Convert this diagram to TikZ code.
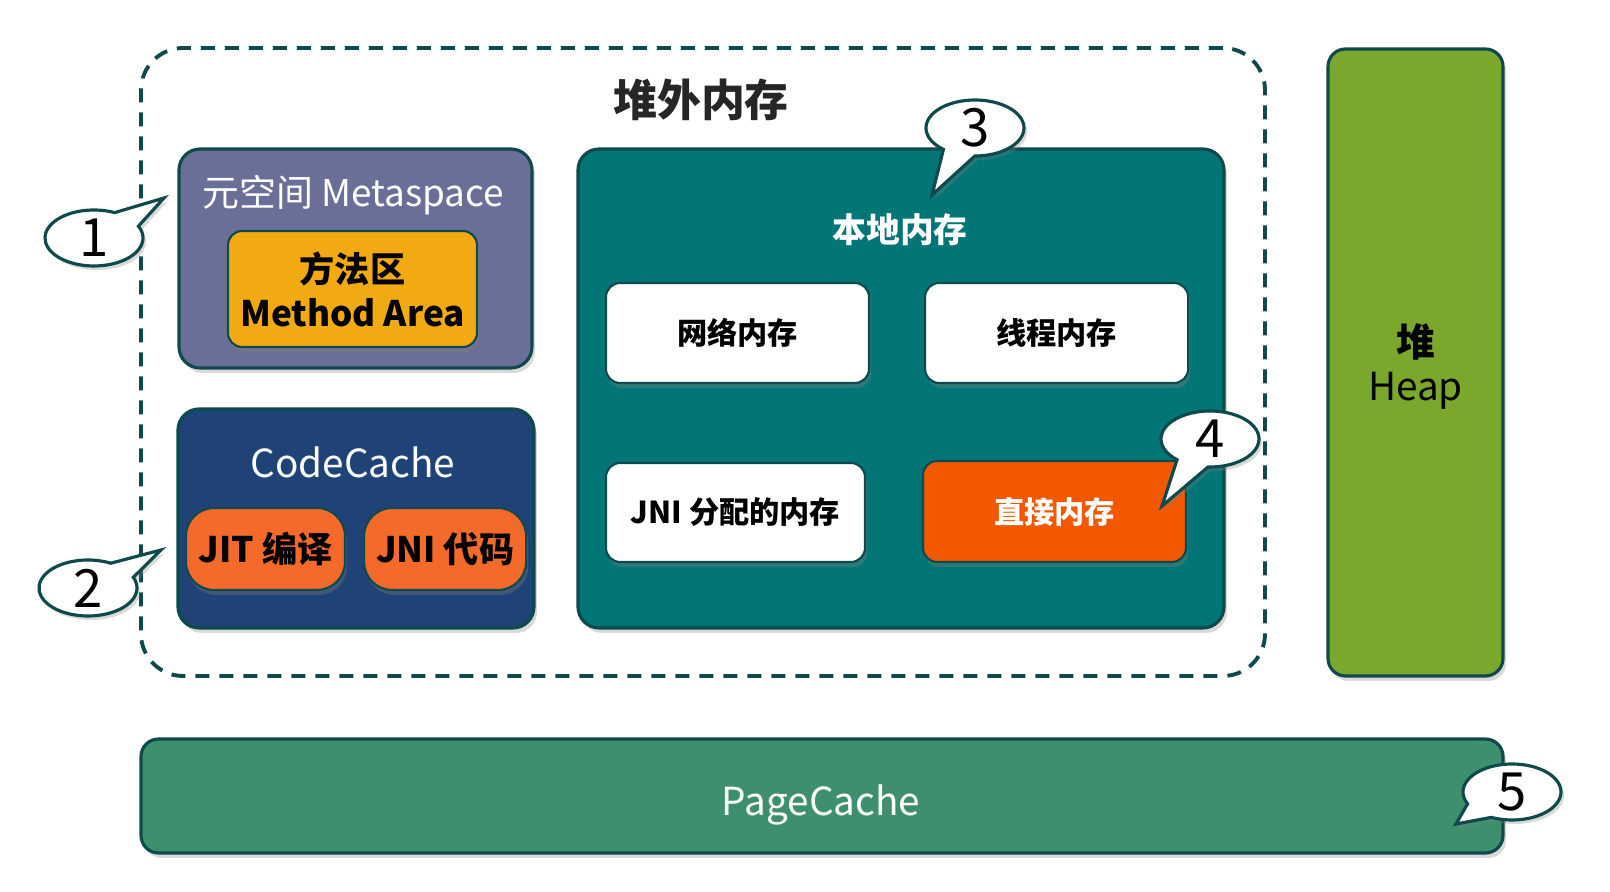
\documentclass[tikz,border=0pt]{standalone}
\usepackage{fontspec}
\setmainfont{Noto Sans CJK SC}
\usepackage{tikz}
\usetikzlibrary{shapes.callouts, shadows, positioning}
\definecolor{edgeteal}{HTML}{0E4A4C}
\definecolor{metafill}{HTML}{6A6F98}
\definecolor{methodfill}{HTML}{F2AA13}
\definecolor{codefill}{HTML}{1F4277}
\definecolor{jitfill}{HTML}{F36A2A}
\definecolor{nativefill}{HTML}{027576}
\definecolor{directfill}{HTML}{F25800}
\definecolor{heapfill}{HTML}{7BA72D}
\definecolor{pagefill}{HTML}{3E8F6E}
\tikzstyle{region} = [draw=edgeteal, line width=0.9pt, rounded corners=6pt,
    drop shadow={shadow xshift=0.03cm, shadow yshift=-0.05cm, opacity=0.3}]
\tikzstyle{block} = [draw=edgeteal, line width=0.6pt, rounded corners=4pt,
    align=center, inner sep=0pt,
    drop shadow={shadow xshift=0.02cm, shadow yshift=-0.05cm, opacity=0.35}]
\tikzstyle{whitebox} = [block, fill=white, minimum width=2.6cm, minimum height=1cm,
    font=\fontsize{8.6}{11}\selectfont\bfseries]
\tikzstyle{tag} = [ellipse callout, draw=edgeteal, fill=white, line width=0.9pt,
    minimum width=0.98cm, minimum height=0.56cm, inner sep=0pt,
    callout pointer arc=40, font=\fontsize{15}{15}\selectfont,
    drop shadow={shadow xshift=0.03cm, shadow yshift=-0.04cm, opacity=0.3}]

\begin{document}
\begin{tikzpicture}
  \useasboundingbox (0,0) rectangle (16.10,8.92);

  % Off-heap frame
  \node[draw=edgeteal, line width=1.1pt, dash pattern=on 0.14cm off 0.1cm,
        rounded corners=12pt, minimum width=11.24cm, minimum height=6.28cm]
        (offheap) at (7.03,5.30) {};
  \node[font=\fontsize{12.5}{15}\selectfont\bfseries, text=black!85] (offheapT) at (7.01,7.92) {堆外内存};

  % Metaspace
  \node[region, fill=metafill, minimum width=3.53cm, minimum height=2.19cm] (meta) at (3.555,6.335) {};
  \node[font=\fontsize{10.5}{12}\selectfont, text=white] (metaT) at (3.53,6.97) {元空间 Metaspace};
  \node[block, fill=methodfill, minimum width=2.49cm, minimum height=1.16cm,
        font=\fontsize{10}{12.5}\selectfont\bfseries] (method) at (3.525,6.03) {方法区\\Method Area};

  % CodeCache
  \node[region, fill=codefill, minimum width=3.56cm, minimum height=2.19cm] (code) at (3.56,3.735) {};
  \node[font=\fontsize{11}{13}\selectfont, text=white] (codeT) at (3.53,4.30) {CodeCache};
  \node[block, fill=jitfill, rounded corners=8pt, minimum width=1.59cm, minimum height=0.82cm,
        font=\fontsize{10}{12}\selectfont\bfseries] (jit) at (2.655,3.43) {JIT 编译};
  \node[block, fill=jitfill, rounded corners=8pt, minimum width=1.62cm, minimum height=0.82cm,
        font=\fontsize{10}{12}\selectfont\bfseries, right=0.17cm of jit] (jnicode) {JNI 代码};

  % Native memory
  \node[region, fill=nativefill, minimum width=6.46cm, minimum height=4.79cm] (native) at (9.01,5.035) {};
  \node[font=\fontsize{9.6}{12}\selectfont\bfseries, text=white] (nativeT) at (9.00,6.62) {本地内存};
  \node[whitebox, minimum width=2.63cm] (net) at (7.375,5.59) {网络内存};
  \node[whitebox, minimum width=2.63cm, right=0.54cm of net] (thread) {线程内存};
  \node[whitebox, minimum width=2.59cm, minimum height=0.99cm] (jnimem) at (7.355,3.795) {JNI 分配的内存};
  \node[whitebox, fill=directfill, text=white, minimum width=2.63cm, minimum height=1.01cm] (direct) at (10.545,3.805) {直接内存};

  % Heap
  \node[region, fill=heapfill, rounded corners=5pt, minimum width=1.75cm, minimum height=6.27cm] (heap) at (14.155,5.295) {};
  \node[font=\fontsize{11}{12.5}\selectfont, align=center] (heapT) at (14.155,5.26) {\textbf{堆}\\Heap};

  % PageCache
  \node[region, fill=pagefill, rounded corners=5pt, minimum width=13.62cm, minimum height=1.14cm] (page) at (8.22,0.96) {};
  \node[font=\fontsize{11}{13}\selectfont, text=white, anchor=base] (pageT) at (8.21,0.76) {PageCache};

  % Callouts
  \coordinate (tip1) at (1.64,6.94);
  \coordinate (tip2) at (1.61,3.42);
  \coordinate (tip3) at (9.32,6.97);
  \coordinate (tip4) at (11.62,3.86);
  \coordinate (tip5) at (14.56,0.68);
  \node[tag, callout absolute pointer={(tip1)}, font=\fontsize{15}{15}\selectfont\rmfamily] (c1) at (0.94,6.54) {1};
  \node[tag, callout absolute pointer={(tip2)}] (c2) at (0.88,3.04) {2};
  \node[tag, callout absolute pointer={(tip3)}] (c3) at (9.75,7.64) {3};
  \node[tag, callout absolute pointer={(tip4)}] (c4) at (12.10,4.53) {4};
  \node[tag, callout absolute pointer={(tip5)}] (c5) at (15.12,1.00) {5};
\end{tikzpicture}
\end{document}
